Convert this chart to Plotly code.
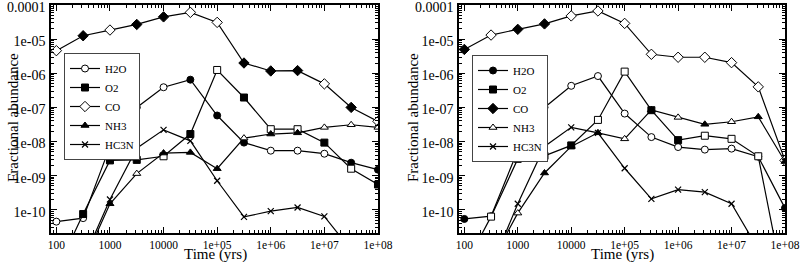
import plotly.graph_objects as go

# ---- data ----
times = [100, 316, 1000, 3162, 10000, 31623, 100000, 316228, 1000000, 3162278, 10000000, 31622777, 100000000]

# left panel
h2o_a = [4.5e-11, 5.7e-11, 7.2e-9, 1.0e-7, 3.9e-7, 6.5e-7, 5.8e-8, 9.3e-9, 5.4e-9, 5.4e-9, 4.4e-9, 2.4e-9, 1.5e-9]
o2_a = [1.6e-12, 7.5e-11, 2.8e-9, 2.9e-9, 3.7e-9, 1.66e-8, 1.25e-6, 1.95e-7, 2.3e-8, 2.3e-8, 9.3e-9, 1.6e-9, 5.5e-10]
co_a = [4.6e-6, 1.26e-5, 1.85e-5, 2.7e-5, 4.5e-5, 6.1e-5, 3.1e-5, 2.0e-6, 1.17e-6, 1.2e-6, 4.9e-7, 1.0e-7, 3.9e-8]
nh3_a = [1e-13, 2.7e-12, 1.5e-10, 1.15e-9, 4.6e-9, 4.8e-9, 1.6e-9, 1.26e-8, 1.66e-8, 1.8e-8, 2.6e-8, 3.1e-8, 2.6e-8]
hc3n_a = [1e-13, 3.3e-12, 2.0e-10, 6.4e-9, 2.2e-8, 1.05e-8, 7.1e-10, 6.2e-11, 9.1e-11, 1.17e-10, 6.4e-11, 6.6e-12, 1e-13]

# right panel
h2o_b = [5.4e-11, 6.5e-11, 5.5e-9, 1.0e-7, 4.3e-7, 8.3e-7, 6.6e-8, 1.35e-8, 6.9e-9, 5.8e-9, 6.2e-9, 3.6e-9, 1.12e-10]
o2_b = [2.1e-12, 6.3e-11, 3.1e-9, 3.8e-9, 7.7e-9, 4.3e-8, 1.12e-6, 8.3e-8, 1.1e-8, 1.48e-8, 1.2e-8, 3.7e-9, 4e-13]
co_b = [5.0e-6, 1.32e-5, 1.94e-5, 2.8e-5, 4.8e-5, 6.7e-5, 2.9e-5, 3.6e-6, 2.95e-6, 2.95e-6, 2.05e-6, 4.0e-7, 2.8e-9]
nh3_b = [1e-13, 2.7e-12, 8e-11, 1.2e-9, 7.2e-9, 1.8e-8, 1.2e-8, 8.5e-8, 5.1e-8, 3.2e-8, 3.8e-8, 5.3e-8, 2.6e-9]
hc3n_b = [1e-13, 2e-12, 1.5e-10, 7.2e-9, 2.6e-8, 1.8e-8, 1.65e-9, 2.1e-10, 3.9e-10, 3.3e-10, 1.5e-10, 7e-12, 1e-13]

species = ["H2O", "O2", "CO", "NH3", "HC3N"]
xtick_vals = [100, 1000, 10000, 1e5, 1e6, 1e7, 1e8]
xtick_text = ["100", "1000", "10000", "1e+05", "1e+06", "1e+07", "1e+08"]
ytick_vals = [1e-10, 1e-9, 1e-8, 1e-7, 1e-6, 1e-5, 1e-4]
ytick_text = ["1e-10", "1e-09", "1e-08", "1e-07", "1e-06", "1e-05", "0.0001"]
x_title = "Time (yrs)"
y_title = "Fractional abundance"

# ---- styles ----
symbols = {"H2O": "circle", "O2": "square", "CO": "diamond", "NH3": "triangle-up", "HC3N": "x-thin"}
# marker fill pattern (1 = filled, 0 = open) approximating half-filled markers
fill_a = {
    "H2O": [0, 0, 0, 1, 0, 1, 1, 1, 0, 0, 0, 1, 1],
    "O2": [1, 1, 1, 1, 0, 1, 0, 1, 0, 0, 1, 0, 1],
    "CO": [0, 1, 0, 1, 1, 0, 0, 1, 1, 1, 0, 1, 0],
    "NH3": [1, 1, 1, 0, 1, 1, 1, 0, 1, 1, 0, 0, 0],
}
fill_b = {
    "H2O": [1, 0, 0, 0, 0, 0, 0, 0, 0, 0, 0, 0, 1],
    "O2": [1, 0, 0, 1, 1, 0, 0, 1, 1, 0, 0, 0, 0],
    "CO": [1, 0, 1, 1, 0, 0, 0, 0, 0, 0, 0, 0, 0],
    "NH3": [0, 0, 0, 1, 1, 1, 0, 1, 0, 1, 0, 1, 1],
}
FONT = "Liberation Serif"

fig = go.Figure()

def add_panel(series, fills, xa, ya, legend):
    for name, vals in zip(species, series):
        sym = symbols[name]
        if name == "HC3N":
            marker = dict(symbol=sym, size=6, color="black", line=dict(color="black", width=1.2))
        else:
            cols = ["black" if f else "white" for f in fills[name]]
            marker = dict(symbol=sym, size=7 if sym != "diamond" else 8, color=cols,
                          line=dict(color="black", width=1))
        fig.add_trace(go.Scatter(
            x=times, y=vals, mode="lines+markers", name=name,
            line=dict(color="black", width=1.2), marker=marker,
            xaxis=xa, yaxis=ya, legend=legend, cliponaxis=True,
        ))

add_panel([h2o_a, o2_a, co_a, nh3_a, hc3n_a], fill_a, "x", "y", "legend")
add_panel([h2o_b, o2_b, co_b, nh3_b, hc3n_b], fill_b, "x2", "y2", "legend2")

# minor tick positions
xminor = [m * 10 ** d for d in range(1, 9) for m in range(2, 10)]
yminor = [m * 10.0 ** d for d in range(-11, -3) for m in range(2, 10)]

W, H = 802, 262
L, R, T, B = 51, 17, 5, 29
pw = W - L - R
ph = H - T - B
d1 = (378 - L) / pw
d2 = (459 - L) / pw

def px_x(px):
    return (px - L) / pw

def px_y(py):
    return 1 - (py - T) / ph

minor_common = dict(ticks="inside", ticklen=3, tickwidth=1, tickcolor="black", showgrid=False)
axis_common = dict(
    type="log", showgrid=False, zeroline=False, showline=True, linecolor="black", linewidth=1.5,
    mirror="allticks", ticks="inside", ticklen=6, tickwidth=1, tickcolor="black", automargin=False,
    ticklabeloverflow="allow",
)

xa = dict(axis_common, range=[1.9, 8.0005], tickmode="array", tickvals=xtick_vals, ticktext=xtick_text,
          ticklabelstandoff=0, tickfont=dict(family=FONT, size=11.5, color="black"),
          minor=dict(minor_common, tickmode="array", tickvals=xminor))
ya = dict(axis_common, range=[-10.68, -3.999], tickmode="array", tickvals=ytick_vals, ticktext=ytick_text,
          ticklabelstandoff=1, ticklabelshift=2, tickfont=dict(family=FONT, size=14, color="black"),
          minor=dict(minor_common, tickmode="array", tickvals=yminor))

legend_common = dict(xanchor="left", yanchor="top", bgcolor="white", bordercolor="#444", borderwidth=1,
                     font=dict(family=FONT, size=11, color="black"), tracegroupgap=0, itemwidth=30)

annotations = []
for cx, cy in [(215, 254.5), (622, 254.5)]:
    annotations.append(dict(text=x_title, xref="paper", yref="paper", x=px_x(cx), y=px_y(cy),
                            xanchor="center", yanchor="middle", showarrow=False,
                            font=dict(family=FONT, size=15, color="black")))
for cx, cy in [(13, 118), (413, 118)]:
    annotations.append(dict(text=y_title, xref="paper", yref="paper", x=px_x(cx), y=px_y(cy),
                            xanchor="center", yanchor="middle", showarrow=False, textangle=-90,
                            font=dict(family=FONT, size=15, color="black")))

fig.update_layout(
    template="none",
    width=W, height=H, margin=dict(l=L, r=R, t=T, b=B, autoexpand=False),
    paper_bgcolor="white", plot_bgcolor="white",
    font=dict(family=FONT, color="black"),
    xaxis=dict(xa, domain=[0, d1], anchor="y"),
    yaxis=dict(ya, domain=[0, 1], anchor="x"),
    xaxis2=dict(xa, domain=[d2, 1], anchor="y2"),
    yaxis2=dict(ya, domain=[0, 1], anchor="x2"),
    legend=dict(legend_common, x=px_x(64), y=px_y(53)),
    legend2=dict(legend_common, x=px_x(472), y=px_y(55)),
    annotations=annotations,
)

fig.write_html("out.html", config={"displayModeBar": False},
               post_script="document.body.style.margin='0';document.body.style.overflow='hidden';")
